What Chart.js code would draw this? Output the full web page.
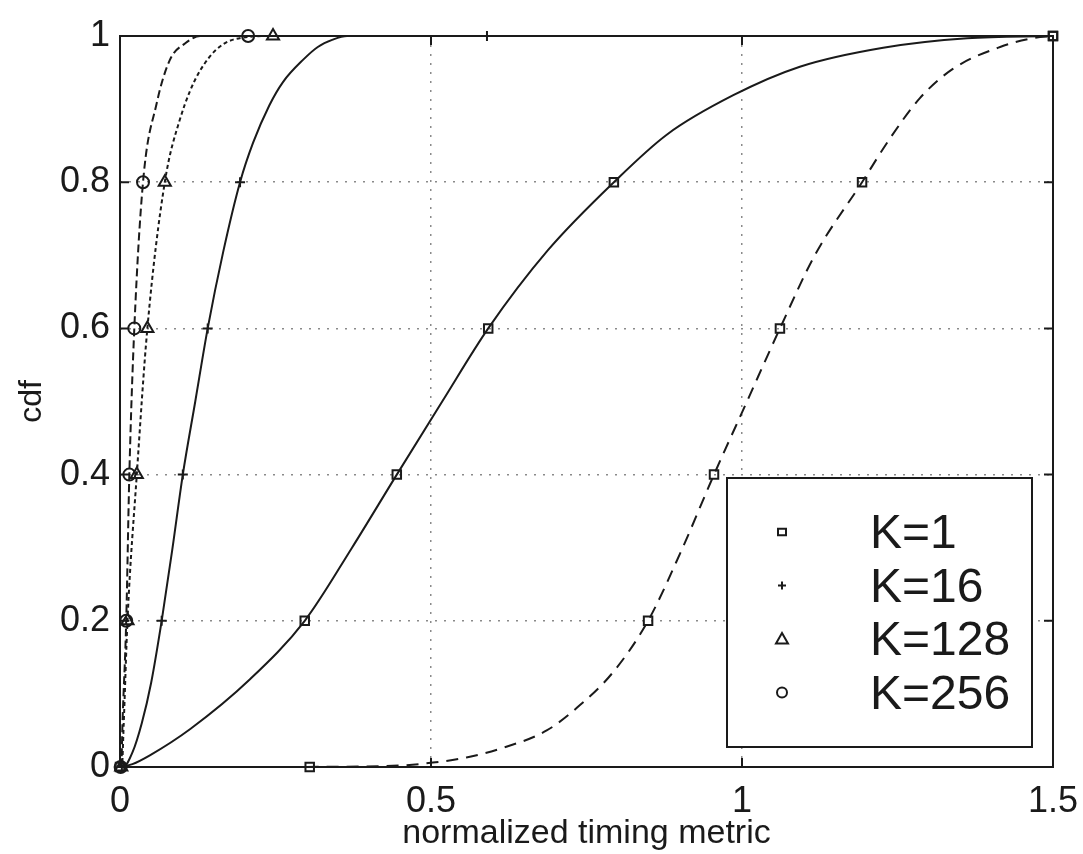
<!DOCTYPE html>
<html>
<head>
<meta charset="utf-8">
<script src="https://cdn.jsdelivr.net/npm/chart.js@4.4.1/dist/chart.umd.min.js"></script>
<style>
  html, body { margin: 0; padding: 0; background: #fff; }
</style>
</head>
<body>
<canvas id="cdfChart" width="1083" height="854"></canvas>
<script>
// axis ticks
const xTickValues = [0, 0.5, 1, 1.5];
const xTickLabels = ['0', '0.5', '1', '1.5'];
const yTickValues = [0, 0.2, 0.4, 0.6, 0.8, 1];
const yTickLabels = ['0', '0.2', '0.4', '0.6', '0.8', '1'];

const seriesNames = ['K=1', 'K=16', 'K=128', 'K=256'];
const markerLevels = [0, 0.2, 0.4, 0.6, 0.8, 1];

// K=1 (solid)
const k1X = [0, 0.02, 0.048, 0.113, 0.209, 0.297, 0.373, 0.445, 0.518, 0.592, 0.688, 0.794, 0.879, 0.986, 1.093, 1.227, 1.362, 1.5];
const k1Y = [0, 0.004, 0.016, 0.052, 0.12, 0.2, 0.3, 0.4, 0.5, 0.6, 0.707, 0.8, 0.865, 0.919, 0.958, 0.984, 0.997, 1];
const k1MarkX = [0.0, 0.297, 0.445, 0.592, 0.794, 1.5];

// K=1, second curve (dashed)
const k1bX = [0.30, 0.45, 0.503, 0.557, 0.611, 0.686, 0.740, 0.793, 0.849, 0.902, 0.955, 1.008, 1.061, 1.117, 1.193, 1.238, 1.286, 1.339, 1.415, 1.468, 1.5];
const k1bY = [0, 0.002, 0.006, 0.013, 0.025, 0.05, 0.085, 0.13, 0.2, 0.295, 0.4, 0.5, 0.6, 0.7, 0.8, 0.86, 0.915, 0.955, 0.985, 0.997, 1];
const k1bMarkX = [0.305, 0.849, 0.955, 1.061, 1.193, 1.5];

// K=16
const k16X = [0, 0.005, 0.02, 0.035, 0.05, 0.067, 0.084, 0.101, 0.121, 0.141, 0.166, 0.193, 0.214, 0.240, 0.262, 0.295, 0.318, 0.342, 0.365, 1.5];
const k16Y = [0, 0, 0.02, 0.06, 0.115, 0.2, 0.297, 0.4, 0.5, 0.6, 0.705, 0.8, 0.854, 0.905, 0.937, 0.968, 0.985, 0.995, 1, 1];
const k16MarkX = [0.003, 0.067, 0.101, 0.141, 0.193, 0.59];

// K=128
const k128X = [0, 0.003, 0.006, 0.012, 0.027, 0.044, 0.072, 0.096, 0.129, 0.182, 0.246, 1.5];
const k128Y = [0, 0, 0.06, 0.2, 0.4, 0.6, 0.8, 0.885, 0.953, 0.995, 1, 1];
const k128MarkX = [0.002, 0.012, 0.027, 0.044, 0.072, 0.246];

// K=256
const k256X = [0, 0.002, 0.004, 0.010, 0.015, 0.023, 0.037, 0.059, 0.080, 0.105, 0.129, 0.206, 1.5];
const k256Y = [0, 0, 0.06, 0.2, 0.4, 0.6, 0.8, 0.908, 0.967, 0.99, 1.0, 1, 1];
const k256MarkX = [0.001, 0.010, 0.015, 0.023, 0.037, 0.206];

const ink = '#1a1a1a';
const fontFamily = '"Liberation Sans", Arial, Helvetica, sans-serif';

const toPoints = (xs, ys) => xs.map((x, i) => ({ x, y: ys[i] }));

function lineSet(xs, ys, dash) {
    return {
        data: toPoints(xs, ys),
        showLine: true,
        borderColor: ink,
        borderWidth: 2,
        borderDash: dash,
        pointRadius: 0,
        cubicInterpolationMode: 'monotone',
        clip: false
    };
}

function markerSet(xs, style, radius) {
    return {
        data: toPoints(xs, markerLevels),
        showLine: false,
        pointStyle: style,
        pointRadius: radius,
        pointBorderWidth: 2,
        pointBorderColor: ink,
        pointBackgroundColor: 'rgba(0,0,0,0)',
        clip: false
    };
}

function drawMarker(ctx, style, x, y, r) {
    ctx.beginPath();
    if (style === 'rect') {
        ctx.rect(x - r, y - r * 0.8, 2 * r, 1.6 * r);
    } else if (style === 'cross') {
        ctx.moveTo(x - r, y); ctx.lineTo(x + r, y);
        ctx.moveTo(x, y - r); ctx.lineTo(x, y + r);
    } else if (style === 'triangle') {
        ctx.moveTo(x, y - r);
        ctx.lineTo(x + r, y + r * 0.75);
        ctx.lineTo(x - r, y + r * 0.75);
        ctx.closePath();
    } else {
        ctx.arc(x, y, r, 0, Math.PI * 2);
    }
    ctx.stroke();
}

const matlabFrame = {
    id: 'matlabFrame',
    afterDatasetsDraw(chart) {
        const { ctx, chartArea: a, scales: { x, y } } = chart;
        const len = 9;
        ctx.save();
        ctx.strokeStyle = ink;
        ctx.lineWidth = 2;
        ctx.strokeRect(a.left, a.top, a.right - a.left, a.bottom - a.top);
        ctx.beginPath();
        xTickValues.forEach(v => {
            const px = x.getPixelForValue(v);
            ctx.moveTo(px, a.bottom); ctx.lineTo(px, a.bottom - len);
            ctx.moveTo(px, a.top); ctx.lineTo(px, a.top + len);
        });
        yTickValues.forEach(v => {
            const py = y.getPixelForValue(v);
            ctx.moveTo(a.left, py); ctx.lineTo(a.left + len, py);
            ctx.moveTo(a.right, py); ctx.lineTo(a.right - len, py);
        });
        ctx.stroke();
        ctx.restore();
    }
};

const legendStyles = ['rect', 'cross', 'triangle', 'circle'];
const legendSizes = [4, 4, 6, 5];

const boxLegend = {
    id: 'boxLegend',
    afterDraw(chart) {
        const { ctx, chartArea: a } = chart;
        const w = 305;
        const h = 269;
        const left = a.right - 21 - w;
        const top = a.bottom - 20 - h;
        ctx.save();
        ctx.fillStyle = '#fff';
        ctx.fillRect(left, top, w, h);
        ctx.strokeStyle = ink;
        ctx.lineWidth = 2;
        ctx.strokeRect(left, top, w, h);
        ctx.font = '48px ' + fontFamily;
        ctx.textBaseline = 'middle';
        seriesNames.forEach((name, i) => {
            const cy = top + 54 + i * 53.5;
            ctx.lineWidth = 2;
            drawMarker(ctx, legendStyles[i], left + 55, cy, legendSizes[i]);
            ctx.fillStyle = ink;
            ctx.fillText(name, left + 143, cy + 3);
        });
        ctx.restore();
    }
};

const hideEdge = (max) => (c) => (c.tick && (c.tick.value === 0 || c.tick.value === max)) ? 'rgba(0,0,0,0)' : '#8a8a8a';

new Chart(document.getElementById('cdfChart'), {
    type: 'scatter',
    data: {
        datasets: [
            lineSet(k1X, k1Y, []),
            lineSet(k1bX, k1bY, [12, 8]),
            lineSet(k16X, k16Y, []),
            lineSet(k128X, k128Y, [4, 3]),
            lineSet(k256X, k256Y, [8, 4]),
            markerSet(k1MarkX, 'rect', 6),
            markerSet(k1bMarkX, 'rect', 6),
            markerSet(k16MarkX, 'cross', 5),
            markerSet(k128MarkX, 'triangle', 7),
            markerSet(k256MarkX, 'circle', 6)
        ]
    },
    options: {
        responsive: false,
        animation: false,
        layout: { padding: { top: 36, right: 30, left: 0, bottom: 0 } },
        plugins: {
            legend: { display: false },
            tooltip: { enabled: false }
        },
        scales: {
            x: {
                type: 'linear',
                min: 0,
                max: 1.5,
                afterFit: scale => {
                    scale.height = 87;
                    scale.paddingLeft = 0;
                    scale.paddingRight = 0;
                },
                afterBuildTicks: scale => { scale.ticks = xTickValues.map(v => ({ value: v })); },
                ticks: {
                    padding: 13,
                    color: ink,
                    font: { family: fontFamily, size: 36 },
                    maxRotation: 0,
                    callback: (value, index) => xTickLabels[index]
                },
                grid: { color: hideEdge(1.5), lineWidth: 1.5, drawTicks: false },
                border: { display: false, dash: [2, 7] },
                title: {
                    display: true,
                    text: 'normalized timing metric',
                    color: ink,
                    font: { family: fontFamily, size: 34, lineHeight: 1 },
                    padding: { top: 0, bottom: 3 }
                }
            },
            y: {
                type: 'linear',
                min: 0,
                max: 1,
                afterFit: scale => { scale.width = 120; },
                afterBuildTicks: scale => { scale.ticks = yTickValues.map(v => ({ value: v })); },
                ticks: {
                    padding: 10,
                    color: ink,
                    font: { family: fontFamily, size: 36 },
                    callback: (value, index) => yTickLabels[index]
                },
                grid: { color: hideEdge(1), lineWidth: 1.5, drawTicks: false },
                border: { display: false, dash: [2, 7] },
                title: {
                    display: true,
                    text: 'cdf',
                    color: ink,
                    font: { family: fontFamily, size: 32, lineHeight: 1 },
                    padding: { top: 16, bottom: 0 }
                }
            }
        }
    },
    plugins: [matlabFrame, boxLegend]
});
</script>
</body>
</html>
